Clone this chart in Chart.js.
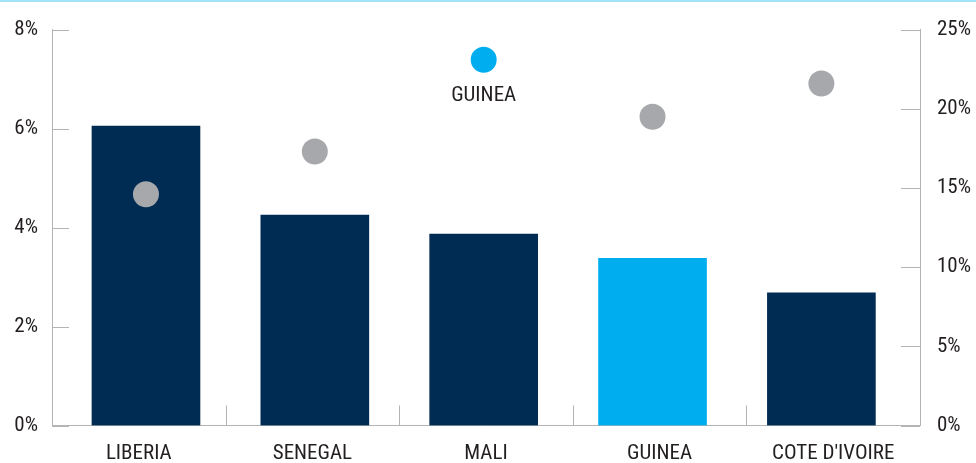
<!DOCTYPE html>
<html>
<head>
<meta charset="utf-8">
<script src="https://cdn.jsdelivr.net/npm/chart.js@4/dist/chart.umd.min.js"></script>
<style>
  html, body { margin: 0; padding: 0; background: #ffffff; }
  #wrap { position: relative; width: 976px; height: 463px; }
  #topRule { position: absolute; left: 0; top: 0; width: 976px; height: 2px; background: #a3e4f9; z-index: 2; }
</style>
</head>
<body>
<div id="wrap">
  <div id="topRule"></div>
  <canvas id="chart"></canvas>
</div>
<script>
// Countries along the horizontal axis
const categories = ['LIBERIA', 'SENEGAL', 'MALI', 'GUINEA', "COTE D'IVOIRE"];
// Bars, left axis (%)
const barValues = [6.05, 4.25, 3.87, 3.38, 2.68];
// Grey dots, right axis (%); Mali has none
const dotValues = [14.6, 17.3, null, 19.5, 21.6];
// Key marker for the highlighted country, right axis (%)
const keyValues = [null, null, 23.1, null, null];
const highlighted = 'GUINEA';
// Tick labels
const leftTicks = ['0%', '2%', '4%', '6%', '8%'];
const rightTicks = ['0%', '5%', '10%', '15%', '20%', '25%'];

const NAVY = '#002c54';
const CYAN = '#00aeef';
const GREY = '#a7a8ab';
const AXIS = '#b4b4b4';
const TEXT = '#231f20';
const FONT = '"Liberation Sans Narrow", "Noto Sans Condensed", "Roboto Condensed", "DejaVu Sans Condensed", sans-serif';

Chart.defaults.font.family = FONT;
Chart.defaults.font.size = 21;
Chart.defaults.color = TEXT;

const toPoints = arr => arr.map((v, i) => (v === null ? null : { x: i, y: v })).filter(p => p);

// Short tick marks drawn inside the plot, plus the key label under its marker
const innerTicks = {
  id: 'innerTicks',
  afterDatasetsDraw(chart) {
    const { ctx, chartArea, scales } = chart;
    ctx.save();
    ctx.strokeStyle = AXIS;
    ctx.lineWidth = 1;
    ctx.beginPath();
    scales.y.ticks.forEach(t => {
      const y = Math.round(scales.y.getPixelForValue(t.value)) + 0.5;
      ctx.moveTo(chartArea.left, y); ctx.lineTo(chartArea.left + 17, y);
    });
    scales.yr.ticks.forEach(t => {
      const y = Math.round(scales.yr.getPixelForValue(t.value)) + 0.5;
      ctx.moveTo(chartArea.right, y); ctx.lineTo(chartArea.right - 19, y);
    });
    for (let i = 1; i < categories.length; i++) {
      const x = Math.round(scales.x.getPixelForValue(i - 0.5)) + 0.5;
      ctx.moveTo(x, chartArea.bottom); ctx.lineTo(x, chartArea.bottom - 20);
    }
    ctx.stroke();

    const meta = chart.getDatasetMeta(2);
    meta.data.forEach(pt => {
      ctx.fillStyle = TEXT;
      ctx.font = '21px ' + FONT;
      ctx.textAlign = 'center';
      ctx.textBaseline = 'middle';
      ctx.fillText(highlighted, pt.x, pt.y + 36);
    });
    ctx.restore();
  }
};

new Chart(document.getElementById('chart'), {
  type: 'bar',
  data: {
    labels: categories,
    datasets: [
      {
        type: 'bar',
        label: 'bars',
        data: toPoints(barValues),
        xAxisID: 'xb',
        yAxisID: 'y',
        backgroundColor: categories.map(c => (c === highlighted ? CYAN : NAVY)),
        barThickness: 108,
        borderWidth: 0,
        order: 2
      },
      {
        type: 'scatter',
        label: 'dots',
        data: toPoints(dotValues),
        xAxisID: 'xb',
        yAxisID: 'yr',
        pointRadius: 13,
        pointHoverRadius: 13,
        pointBackgroundColor: GREY,
        pointBorderWidth: 0,
        order: 1
      },
      {
        type: 'scatter',
        label: highlighted,
        data: toPoints(keyValues),
        xAxisID: 'xb',
        yAxisID: 'yr',
        pointRadius: 13,
        pointHoverRadius: 13,
        pointBackgroundColor: CYAN,
        pointBorderWidth: 0,
        order: 0
      }
    ]
  },
  options: {
    responsive: true,
    maintainAspectRatio: false,
    animation: false,
    layout: { padding: { top: 28, left: 0, right: 0, bottom: 0 } },
    plugins: { legend: { display: false }, tooltip: { enabled: false } },
    scales: {
      x: {
        type: 'category',
        position: 'bottom',
        offset: true,
        grid: { display: false, drawTicks: false },
        border: { display: true, color: AXIS, width: 1 },
        ticks: { padding: 16, maxRotation: 0, autoSkip: false },
        afterFit: s => { s.height = 37.5; }
      },
      xb: {
        type: 'linear',
        display: false,
        offset: false,
        grace: 0,
        min: -0.5565,
        max: 4.584
      },
      y: {
        position: 'left',
        min: 0,
        max: 8,
        grid: { display: false, drawTicks: false },
        border: { display: true, color: AXIS, width: 1 },
        ticks: {
          stepSize: 2,
          padding: 14,
          callback: (v, i) => leftTicks[i]
        },
        afterFit: s => { s.width = 52; }
      },
      yr: {
        position: 'right',
        min: 0,
        max: 25,
        grid: { display: false, drawTicks: false },
        border: { display: true, color: AXIS, width: 1 },
        ticks: {
          stepSize: 5,
          padding: 17,
          callback: (v, i) => rightTicks[i]
        },
        afterFit: s => { s.width = 56; }
      }
    }
  },
  plugins: [innerTicks]
});
</script>
</body>
</html>
